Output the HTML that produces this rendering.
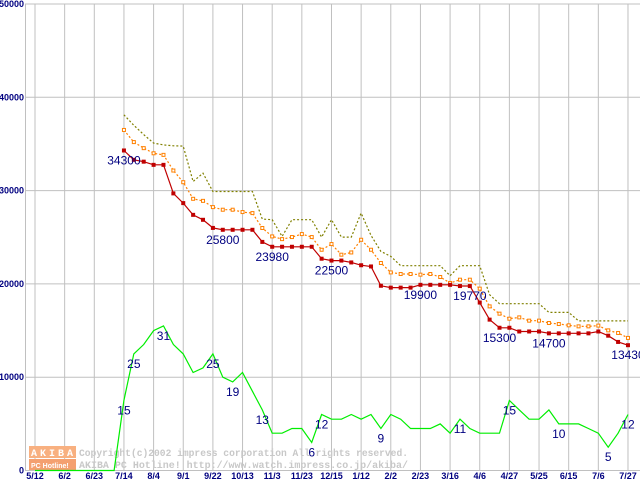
<!DOCTYPE html>
<html><head><meta charset="utf-8"><style>
html,body{margin:0;padding:0;background:#fff;}
svg{display:block;font-family:"Liberation Sans",sans-serif;}
</style></head><body>
<svg id="chart" width="640" height="480" viewBox="0 0 640 480" xmlns="http://www.w3.org/2000/svg">
<g id="grid"></g>
<g id="wm">
 <rect x="29" y="446" width="47" height="12" fill="#f8b080"/>
 <rect x="29" y="459" width="47" height="11" fill="#f4a070"/>
 <text x="31" y="456" font-size="10" font-weight="bold" fill="#fff" font-family="Liberation Mono, monospace" letter-spacing="3">AKIBA</text>
 <text x="31" y="468" font-size="7" font-weight="bold" fill="#fff">PC Hotline!</text>
 <text x="79" y="456" font-size="10.5" font-weight="bold" fill="#c8c8c8" font-family="Liberation Mono, monospace" textLength="329" lengthAdjust="spacingAndGlyphs">Copyright(c)2002 impress corporation All rights reserved.</text>
 <text x="79" y="468" font-size="10.5" font-weight="bold" fill="#c8c8c8" font-family="Liberation Mono, monospace" textLength="329" lengthAdjust="spacingAndGlyphs">AKIBA PC Hotline!  http://www.watch.impress.co.jp/akiba/</text>
</g>
<g id="series"></g>
<g id="labels"></g>
</svg>
<script>
const xTickLabels=["5/12","6/2","6/23","7/14","8/4","9/1","9/22","10/13","11/3","11/23","12/15","1/12","2/2","2/23","3/16","4/6","4/27","5/25","6/15","7/6","7/27"];
const yTicks=[0,10000,20000,30000,40000,50000];
const startWeek=9;
const redPrices=[34300,33300,33100,32760,32760,29700,28660,27400,26870,26000,25800,25800,25800,25800,24500,23980,23980,23980,23980,23980,22700,22500,22500,22300,22000,21870,19800,19600,19600,19600,19900,19900,19900,19900,19770,19770,18000,16170,15300,15300,14900,14900,14900,14700,14700,14700,14700,14700,14900,14450,13780,13430];
const orangePrices=[36500,35200,34550,34000,33830,32150,30900,29120,28900,28230,27950,27950,27700,27590,25990,25090,24800,25020,25340,25020,23660,24270,23130,23370,24730,23660,22240,21230,21060,21060,20990,21060,20740,20100,20450,20450,19490,17590,16810,16270,16410,16060,16060,15810,15700,15560,15450,15450,15530,15020,14740,14210];
const olivePrices=[38120,37000,36000,35090,34900,34800,34770,30980,31870,29900,29900,29900,29900,29900,26950,26880,25090,26880,26880,26880,25020,26880,25020,25020,27590,25200,23480,22950,21950,21950,21950,21950,21950,20880,21950,21950,21950,18840,17880,17880,17880,17880,17880,16950,16950,16950,16030,16030,16030,16030,16030,16030];
const shopCounts=[0,0,0,0,0,0,0,0,0,15,25,27,30,31,27,25,21,22,25,20,19,21,17,13,8,8,9,9,6,12,11,11,12,11,12,9,12,11,9,9,9,10,8,11,9,8,8,8,15,13,11,11,13,10,10,10,9,8,5,8,12];
const priceLabelWeeks=[9,19,24,30,39,44,47,52,60];
const countLabelWeeks=[9,10,13,18,20,23,28,29,35,43,48,53,58,60];

const X0=35,WK=9.883,Y0=470.5,YT=4;
const xs=w=>X0+w*WK;
const ys=v=>Y0-(v/50000)*(Y0-YT);
const yc=c=>ys(c*500);
const NS="http://www.w3.org/2000/svg";
function mk(tag,parent){const e=document.createElementNS(NS,tag);parent.appendChild(e);return e;}
const grid=document.getElementById('grid'),ser=document.getElementById('series'),lab=document.getElementById('labels');

xTickLabels.forEach((t,i)=>{
 const x=xs(i*3);
 const l=mk('line',grid);
 
 
 l.setAttribute('x1',x);l.setAttribute('x2',x);l.setAttribute('y1',YT);l.setAttribute('y2',Y0);
 l.setAttribute('stroke','#c0c0c0');l.setAttribute('stroke-width','1');
 const tx=mk('text',grid);
 
 
 tx.setAttribute('x',x);tx.setAttribute('y',479);tx.setAttribute('text-anchor','middle');
 tx.setAttribute('font-size','9');tx.setAttribute('font-weight','bold');tx.setAttribute('fill','#000080');
 tx.textContent=t;
});
yTicks.forEach(v=>{
 const y=ys(v);
 const l=mk('line',grid);
 
 
 l.setAttribute('x1',25);l.setAttribute('x2',640);l.setAttribute('y1',y);l.setAttribute('y2',y);
 l.setAttribute('stroke','#c0c0c0');l.setAttribute('stroke-width','1');
 const tx=mk('text',grid);
 
 
 tx.setAttribute('x',24);tx.setAttribute('y',y+3);tx.setAttribute('text-anchor','end');
 tx.setAttribute('font-size','9');tx.setAttribute('font-weight','bold');tx.setAttribute('fill','#000080');
 tx.textContent=String(v);
});
const ax=mk('line',grid);


ax.setAttribute('x1',25.5);ax.setAttribute('x2',25.5);ax.setAttribute('y1',YT);ax.setAttribute('y2',Y0);ax.setAttribute('stroke','#c0c0c0');

function line(vals,off,fy,color,dash,name){
 const p=mk('polyline',ser);
 
 
 p.setAttribute('points',vals.map((v,i)=>xs(i+off).toFixed(1)+','+fy(v).toFixed(1)).join(' '));
 p.setAttribute('fill','none');p.setAttribute('stroke',color);p.setAttribute('stroke-width','1.2');
 if(dash)p.setAttribute('stroke-dasharray',dash);
}
line(shopCounts,0,yc,'#00ee00',null,'shop-count-line');
line(olivePrices,startWeek,ys,'#808000','2,2','max-price-line');
line(orangePrices,startWeek,ys,'#ff8000','2,2','avg-price-line');
orangePrices.forEach((v,i)=>{
 const r=mk('rect',ser);
 
 
 r.setAttribute('x',xs(i+startWeek)-1.5);r.setAttribute('y',ys(v)-1.5);r.setAttribute('width',3);r.setAttribute('height',3);
 r.setAttribute('fill','#fff');r.setAttribute('stroke','#ff8000');r.setAttribute('stroke-width','1');
});
line(redPrices,startWeek,ys,'#c00000',null,'min-price-line');
redPrices.forEach((v,i)=>{
 const r=mk('rect',ser);
 
 
 r.setAttribute('x',xs(i+startWeek)-2);r.setAttribute('y',ys(v)-2);r.setAttribute('width',4);r.setAttribute('height',4);
 r.setAttribute('fill','#c00000');
});
function label(x,y,t,name){
 const tx=mk('text',lab);
 
 
 tx.setAttribute('x',x);tx.setAttribute('y',y+14);tx.setAttribute('text-anchor','middle');
 tx.setAttribute('font-size','12');tx.setAttribute('fill','#000080');
 tx.textContent=t;
}
priceLabelWeeks.forEach(w=>{const v=redPrices[w-startWeek];label(xs(w),ys(v),String(v),'min-price-label');});
countLabelWeeks.forEach(w=>{const c=shopCounts[w];label(xs(w),yc(c),String(c),'shop-count-label');});
</script>
</body></html>
